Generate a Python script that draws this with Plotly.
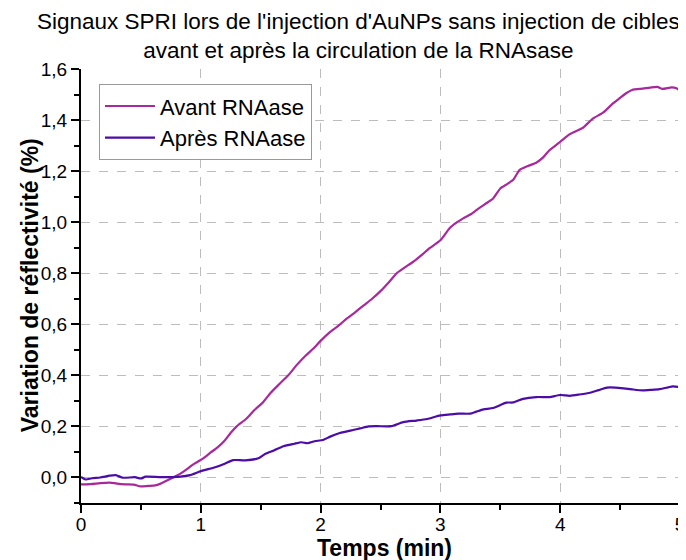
import plotly.graph_objects as go

# --- data ---
t_avant = [0, 0.08, 0.16, 0.24, 0.30, 0.37, 0.44, 0.50, 0.56, 0.62, 0.66, 0.70, 0.76, 0.83, 0.89,
           0.95, 1.02, 1.08, 1.14, 1.20, 1.25, 1.30, 1.38, 1.45, 1.52, 1.58, 1.66, 1.73, 1.80, 1.87,
           1.94, 2.00, 2.08, 2.15, 2.22, 2.29, 2.36, 2.43, 2.50, 2.57, 2.635, 2.70, 2.77, 2.84, 2.91,
           3.00, 3.08, 3.14, 3.19, 3.25, 3.30, 3.37, 3.44, 3.50, 3.56, 3.61, 3.66, 3.73, 3.80, 3.86,
           3.91, 3.96, 4.00, 4.08, 4.19, 4.27, 4.36, 4.44, 4.50, 4.55, 4.60, 4.69, 4.75, 4.81, 4.85,
           4.93, 4.97, 5.00]
y_avant = [-0.027, -0.026, -0.022, -0.020, -0.024, -0.027, -0.028, -0.035, -0.033, -0.031, -0.025,
           -0.016, -0.002, 0.015, 0.035, 0.055, 0.075, 0.097, 0.118, 0.145, 0.175, 0.200, 0.230,
           0.265, 0.295, 0.330, 0.368, 0.400, 0.440, 0.475, 0.505, 0.535, 0.570, 0.595, 0.623,
           0.648, 0.674, 0.700, 0.730, 0.765, 0.800, 0.822, 0.844, 0.870, 0.898, 0.929, 0.978,
           1.000, 1.015, 1.030, 1.047, 1.070, 1.093, 1.132, 1.150, 1.167, 1.204, 1.220, 1.233,
           1.255, 1.282, 1.300, 1.315, 1.345, 1.370, 1.405, 1.430, 1.465, 1.487, 1.505, 1.518,
           1.523, 1.527, 1.530, 1.522, 1.528, 1.525, 1.515]

t_apres = [0, 0.04, 0.09, 0.16, 0.24, 0.29, 0.35, 0.45, 0.50, 0.54, 0.67, 0.83, 0.91, 1.00, 1.12,
           1.20, 1.27, 1.37, 1.48, 1.54, 1.61, 1.69, 1.78, 1.84, 1.89, 1.95, 2.02, 2.08, 2.16, 2.27,
           2.33, 2.40, 2.47, 2.59, 2.69, 2.80, 2.89, 3.00, 3.08, 3.15, 3.25, 3.30, 3.36, 3.44, 3.55,
           3.61, 3.69, 3.80, 3.91, 4.00, 4.08, 4.16, 4.25, 4.32, 4.39, 4.46, 4.53, 4.60, 4.69, 4.76,
           4.83, 4.90, 4.94, 5.00]
y_apres = [0.002, -0.008, -0.003, 0.000, 0.007, 0.009, -0.001, 0.001, -0.004, 0.003, 0.001, 0.003,
           0.009, 0.025, 0.040, 0.054, 0.068, 0.067, 0.075, 0.093, 0.106, 0.122, 0.132, 0.138, 0.134,
           0.142, 0.147, 0.160, 0.174, 0.186, 0.192, 0.200, 0.201, 0.201, 0.217, 0.223, 0.229, 0.243,
           0.247, 0.250, 0.250, 0.258, 0.267, 0.272, 0.293, 0.294, 0.308, 0.315, 0.315, 0.323, 0.320,
           0.325, 0.332, 0.342, 0.352, 0.352, 0.349, 0.345, 0.341, 0.343, 0.346, 0.353, 0.357, 0.354]

series_names = ["Avant RNAase", "Après RNAase"]
series_colors = ["#A8299C", "#4C0CA6"]

title_text = "Signaux SPRI lors de l'injection d'AuNPs sans injection de cibles<br>avant et après la circulation de la RNAsase"
x_title = "Temps (min)"
y_title = "Variation de réflectivité (%)"

FONT = "Liberation Sans, Arial, sans-serif"

fig = go.Figure()
fig.add_trace(go.Scatter(x=t_avant, y=y_avant, mode="lines", name=series_names[0],
                         line=dict(color=series_colors[0], width=2.2, shape="spline", smoothing=0.6)))
fig.add_trace(go.Scatter(x=t_apres, y=y_apres, mode="lines", name=series_names[1],
                         line=dict(color=series_colors[1], width=2.2, shape="spline", smoothing=0.6)))

axis_common = dict(
    showline=True, linecolor="black", linewidth=2, mirror=False,
    ticks="outside", ticklen=8, tickwidth=2, tickcolor="black",
    showgrid=True, gridcolor="#BDBDBD", gridwidth=1, griddash="dash",
    zeroline=False, automargin=False,
    tickfont=dict(family=FONT, size=19, color="black"),
)

fig.update_xaxes(
    range=[0, 5], dtick=1, tick0=0, ticklabelstandoff=-5,
    minor=dict(dtick=0.5, ticks="outside", ticklen=5, tickwidth=1.5, tickcolor="black", showgrid=False),
    **axis_common,
)
fig.update_yaxes(
    range=[-0.1, 1.6], dtick=0.2, tick0=0, tickformat=".1f",
    minor=dict(dtick=0.1, ticks="outside", ticklen=5, tickwidth=1.5, tickcolor="black", showgrid=False),
    **axis_common,
)

fig.add_annotation(text=title_text, xref="paper", yref="paper", x=0.4625, y=1.076,
                   xanchor="center", yanchor="middle", showarrow=False,
                   font=dict(family=FONT, size=22.5, color="black"))
fig.add_annotation(text="<b>" + x_title + "</b>", xref="paper", yref="paper", x=0.506, y=-0.104,
                   xanchor="center", yanchor="middle", showarrow=False,
                   font=dict(family=FONT, size=23, color="black"))
fig.add_annotation(text="<b>" + y_title + "</b>", xref="paper", yref="paper", x=-0.085, y=0.502,
                   xanchor="center", yanchor="middle", showarrow=False, textangle=-90,
                   font=dict(family=FONT, size=23, color="black"))

# the page body has an 8px default margin, so the figure is sized to fit the window
fig.update_layout(
    width=678, height=552,
    margin=dict(l=73, r=6, t=61, b=57, autoexpand=False),
    paper_bgcolor="white", plot_bgcolor="white",
    separators=",.",
    font=dict(family=FONT, color="black"),
    legend=dict(x=0.03, y=0.965, xanchor="left", yanchor="top",
                bordercolor="#999999", borderwidth=1, bgcolor="white",
                font=dict(family=FONT, size=22, color="black"),
                itemwidth=50, tracegroupgap=0),
    showlegend=True,
)

fig.write_html("out.html")
